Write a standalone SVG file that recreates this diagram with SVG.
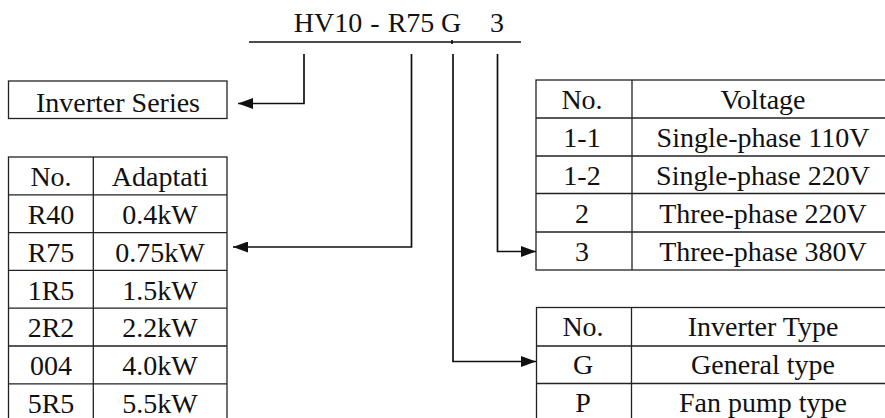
<svg xmlns="http://www.w3.org/2000/svg" width="885" height="418" viewBox="0 0 885 418">
<style>
text{font-family:"Liberation Serif","Times New Roman",serif;font-size:28px;fill:#111;text-anchor:middle}
.cell{fill:#fff;stroke:#222;stroke-width:1.3}
.grid{stroke:#222;stroke-width:1.3;fill:none}
.conn{stroke:#111;stroke-width:1.7;fill:none}
</style>
<defs>
<marker id="ah" markerUnits="userSpaceOnUse" markerWidth="15" markerHeight="11" refX="15" refY="5.5" orient="auto">
<path d="M0,0 L15,5.5 L0,11 z" fill="#111"/>
</marker>
</defs>

<g id="title">
<text y="32"><tspan x="328">HV10</tspan><tspan x="375">-</tspan><tspan x="411">R75</tspan><tspan x="451">G</tspan><tspan x="497">3</tspan></text>
<line class="conn" x1="249" y1="42" x2="521" y2="42"/>
<line class="conn" x1="452" y1="40" x2="452" y2="44" stroke-width="1"/>
</g>

<g id="inverter-series">
<rect class="cell" x="8.5" y="81" width="218.5" height="37.5"/>
<text x="118" y="111.5">Inverter Series</text>
</g>

<g id="power-table">
<rect class="cell" x="8.5" y="157" width="218.5" height="270"/>
<path class="grid" d="M93.3,157 V427 M8.5,194.8 H227 M8.5,232.6 H227 M8.5,270.4 H227 M8.5,308.2 H227 M8.5,346 H227 M8.5,383.8 H227"/>
<text x="51" y="186">No.</text><text x="160" y="186">Adaptati</text>
<text x="51" y="224">R40</text><text x="160" y="224">0.4kW</text>
<text x="51" y="261.5">R75</text><text x="160" y="261.5">0.75kW</text>
<text x="51" y="299.5">1R5</text><text x="160" y="299.5">1.5kW</text>
<text x="51" y="337">2R2</text><text x="160" y="337">2.2kW</text>
<text x="51" y="375">004</text><text x="160" y="375">4.0kW</text>
<text x="51" y="413">5R5</text><text x="160" y="413">5.5kW</text>
</g>

<g id="voltage-table">
<rect class="cell" x="536" y="80" width="359" height="190"/>
<path class="grid" d="M632,80 V270 M536,118 H895 M536,156 H895 M536,193.5 H895 M536,232 H895"/>
<text x="582" y="109">No.</text><text x="763" y="109">Voltage</text>
<text x="582" y="147">1-1</text><text x="763" y="147">Single-phase 110V</text>
<text x="582" y="185">1-2</text><text x="763" y="185">Single-phase 220V</text>
<text x="582" y="223">2</text><text x="763" y="223">Three-phase 220V</text>
<text x="582" y="261">3</text><text x="763" y="261">Three-phase 380V</text>
</g>

<g id="type-table">
<rect class="cell" x="536.5" y="307.5" width="359" height="120"/>
<path class="grid" d="M631.5,307.5 V427 M536.5,346 H895 M536.5,383.5 H895"/>
<text x="583" y="336">No.</text><text x="763" y="336">Inverter Type</text>
<text x="583" y="374">G</text><text x="763" y="374">General type</text>
<text x="583" y="412">P</text><text x="763" y="412">Fan pump type</text>
</g>

<g id="connectors">
<polyline class="conn" points="304,54 304,103.5 238,103.5" marker-end="url(#ah)"/>
<polyline class="conn" points="411.5,54 411.5,247 233,247" marker-end="url(#ah)"/>
<polyline class="conn" points="453,54 453,361.5 536,361.5" marker-end="url(#ah)"/>
<polyline class="conn" points="497.5,54 497.5,251.5 536,251.5" marker-end="url(#ah)"/>
</g>
</svg>
